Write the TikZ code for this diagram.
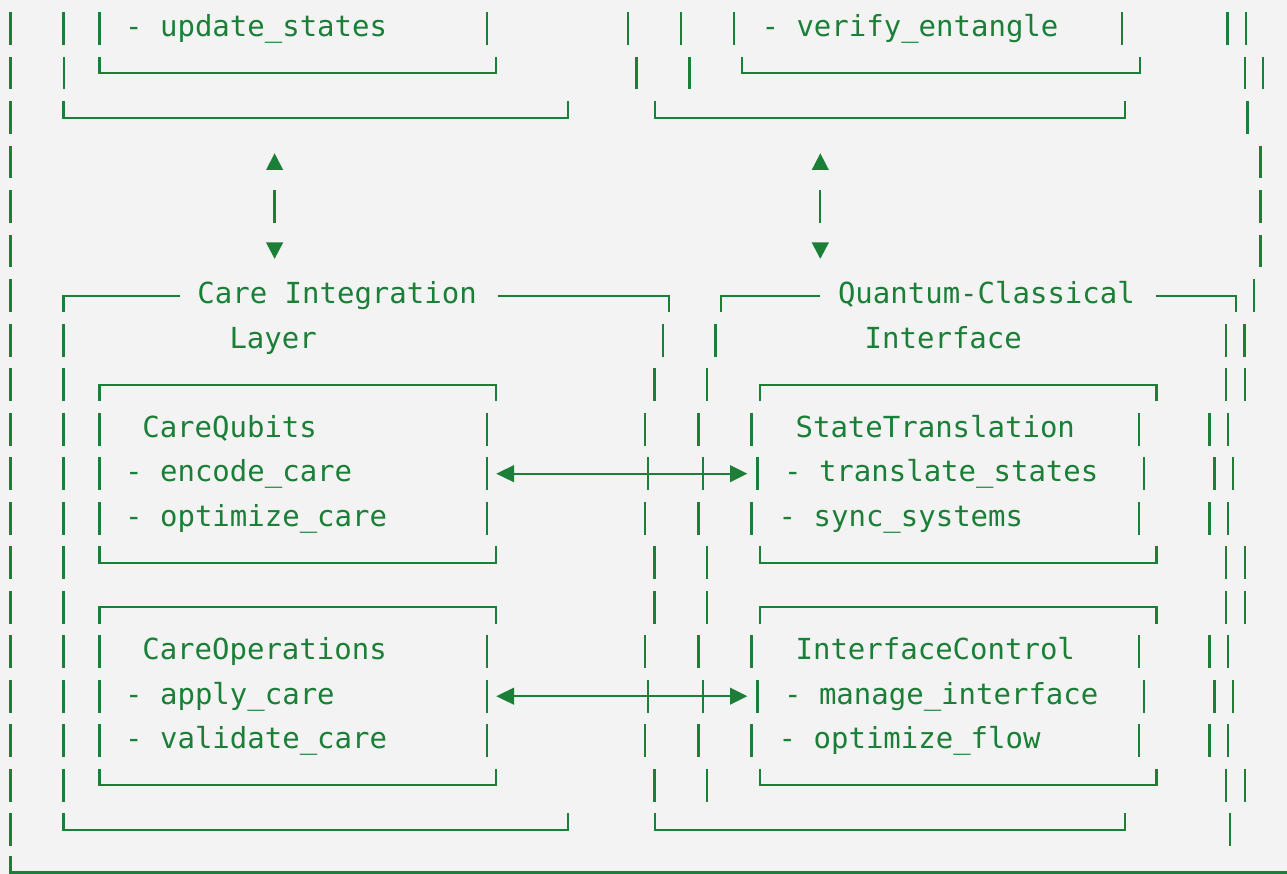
\documentclass[tikz,border=0pt]{standalone}
\usepackage{fontspec}
\newfontfamily\asciifont{DejaVu Sans Mono}
\definecolor{fg}{HTML}{1B7F37}
\definecolor{bg}{HTML}{F3F3F3}
\newcommand\abar[2]{\draw[ln] (#1,{ry(#2)-16.3}) -- (#1,{ry(#2)+16.3});}
\newcommand\abot[3]{\draw[ln] (#1,{ry(#3)-16.3}) -- (#1,{ry(#3)}) -- (#2,{ry(#3)}) -- (#2,{ry(#3)-16.3});}
\newcommand\atopbx[3]{\draw[ln] (#1,{ry(#3)+16.3}) -- (#1,{ry(#3)}) -- (#2,{ry(#3)}) -- (#2,{ry(#3)+16.3});}
\begin{document}
\begin{tikzpicture}[x=1pt,y=-1pt,
  declare function={ry(\r)=28.7+44.5*\r;},
  ln/.style={draw=fg,line width=2.3pt},
  txt/.style={anchor=base west,inner sep=0pt,text=fg,font=\asciifont\fontsize{29}{29}\selectfont}]
\fill[bg] (0,0) rectangle (1287,874);
\useasboundingbox (0,0) rectangle (1287,874);

% ---------- outer frame left / bottom
\foreach \r in {0,...,18} {\abar{10.4}{\r}}
\draw[ln] (10.4,{872.5-16.3}) -- (10.4,872.5) -- (1295,872.5);

% ---------- top area (rows 0-2)
\abar{63.4}{0} \abar{99.5}{0} \abar{487.1}{0} \abar{628.1}{0}
\abar{681.3}{0} \abar{734.1}{0} \abar{1121.9}{0} \abar{1227.5}{0} \abar{1245.9}{0}
\node[txt] (ups) at (125,{ry(0)+8}) {- update\_states};
\node[txt] (ven) at (761.4,{ry(0)+8}) {- verify\_entangle};
\abar{64.3}{1} \abot{99.5}{496.3}{1} \abar{636.4}{1}
\abar{689.5}{1} \abot{741.9}{1139.7}{1} \abar{1245.2}{1} \abar{1263.1}{1}
\abot{63.4}{568}{2} \abot{655.3}{1124.8}{2} \abar{1247.6}{2}

% ---------- vertical two-way arrows (rows 3-5)
\foreach \xx in {274.6,820.3} {
  \fill[fg] (\xx-8.6,170) -- (\xx+8.6,170) -- (\xx,153.3) -- cycle;
  \abar{\xx}{4}
  \fill[fg] (\xx-8.6,242.5) -- (\xx+8.6,242.5) -- (\xx,258.8) -- cycle;
}
\foreach \r in {3,4,5} {\abar{1260.5}{\r}}

% ---------- row 6: layer headers
\draw[ln] (63.4,{ry(6)+16.3}) -- (63.4,{ry(6)}) -- (180.3,{ry(6)});
\draw[ln] (497.5,{ry(6)}) -- (668.9,{ry(6)}) -- (668.9,{ry(6)+16.3});
\node[txt] (cil) at (197.2,{ry(6)+8}) {Care Integration};
\draw[ln] (721.3,{ry(6)+16.3}) -- (721.3,{ry(6)}) -- (820.3,{ry(6)});
\draw[ln] (1155.8,{ry(6)}) -- (1236.2,{ry(6)}) -- (1236.2,{ry(6)+16.3});
\node[txt] (qci) at (837.8,{ry(6)+8}) {Quantum-Classical};
\abar{1254}{6}

% ---------- row 7
\abar{63.4}{7} \abar{662.7}{7} \abar{715.5}{7} \abar{1225.9}{7} \abar{1244.5}{7}
\node[txt] (lay) at (229.3,{ry(7)+8}) {Layer};
\node[txt] (itf) at (864.5,{ry(7)+8}) {Interface};

% ---------- inner boxes
\foreach \r in {8,...,17} {\abar{63.4}{\r}}
\foreach \r in {8,13} {
  \atopbx{99.5}{496.3}{\r} \atopbx{759.7}{1156.6}{\r}
  \abar{654.4}{\r} \abar{707.3}{\r} \abar{1225.9}{\r} \abar{1245}{\r}}
\foreach \r in {12,17} {
  \abot{99.5}{496.3}{\r} \abot{759.7}{1156.6}{\r}
  \abar{654.4}{\r} \abar{707.3}{\r} \abar{1225.9}{\r} \abar{1245}{\r}}
\foreach \r in {9,11,14,16} {
  \abar{99.5}{\r} \abar{487.1}{\r} \abar{645}{\r} \abar{698.6}{\r} \abar{751.4}{\r}
  \abar{1139.3}{\r} \abar{1209.4}{\r} \abar{1228}{\r}}
\foreach \r in {10,15} {
  \abar{99.5}{\r} \abar{487.1}{\r} \abar{648.3}{\r} \abar{702.7}{\r} \abar{757.6}{\r}
  \abar{1144.2}{\r} \abar{1214.4}{\r} \abar{1233}{\r}
  \draw[ln] (514,{ry(\r)}) -- (731,{ry(\r)});
  \fill[fg] (496.3,{ry(\r)}) -- (514,{ry(\r)-8.6}) -- (514,{ry(\r)+8.6}) -- cycle;
  \fill[fg] (747.3,{ry(\r)}) -- (730,{ry(\r)-8.6}) -- (730,{ry(\r)+8.6}) -- cycle;
}

\node[txt] (cq)  at (142.1,{ry(9)+8})  {CareQubits};
\node[txt] (cq1) at (125,{ry(10)+8})   {- encode\_care};
\node[txt] (cq2) at (125,{ry(11)+8})   {- optimize\_care};
\node[txt] (co)  at (142.1,{ry(14)+8}) {CareOperations};
\node[txt] (co1) at (125,{ry(15)+8})   {- apply\_care};
\node[txt] (co2) at (125,{ry(16)+8})   {- validate\_care};

\node[txt] (st)  at (795.4,{ry(9)+8})  {StateTranslation};
\node[txt] (st1) at (783.9,{ry(10)+8}) {- translate\_states};
\node[txt] (st2) at (778.5,{ry(11)+8}) {- sync\_systems};
\node[txt] (ic)  at (795.4,{ry(14)+8}) {InterfaceControl};
\node[txt] (ic1) at (783.9,{ry(15)+8}) {- manage\_interface};
\node[txt] (ic2) at (778.5,{ry(16)+8}) {- optimize\_flow};

% ---------- row 18
\abot{63.4}{568}{18} \abot{655.3}{1124.8}{18} \abar{1230}{18}
\end{tikzpicture}
\end{document}
